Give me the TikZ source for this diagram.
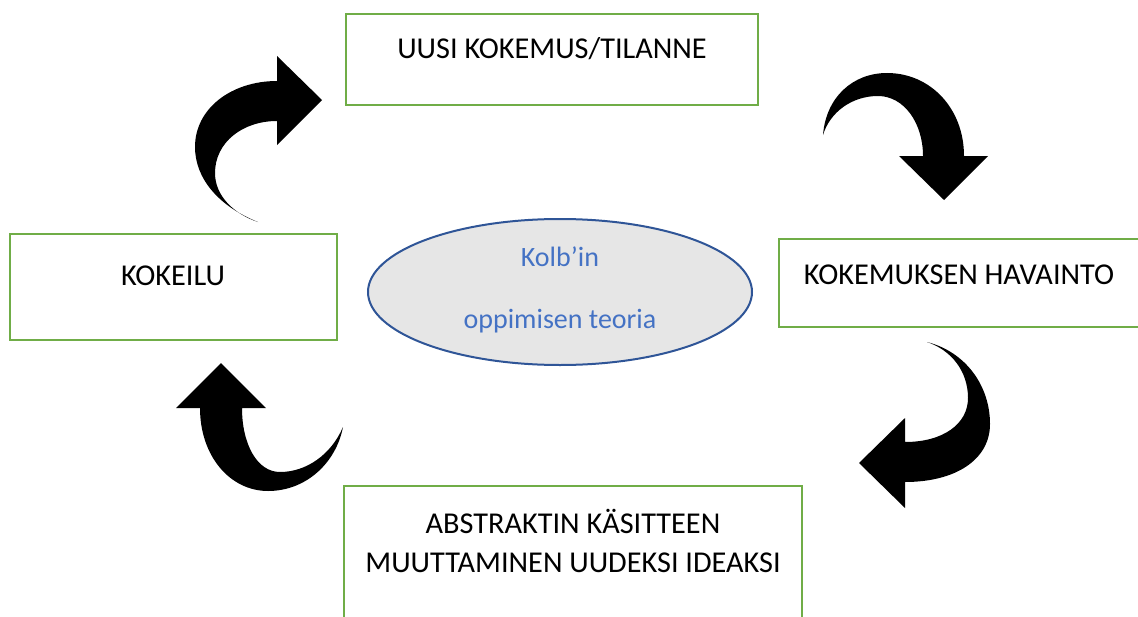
\documentclass[tikz,border=0pt]{standalone}
\usepackage{fontspec}
\setmainfont{Carlito}
\usetikzlibrary{fit,shapes.geometric}
\definecolor{boxgreen}{HTML}{70AD47}
\definecolor{ellblue}{HTML}{2F5597}
\definecolor{txtblue}{HTML}{4472C4}
\definecolor{ellfill}{HTML}{E6E6E6}
\begin{document}
\begin{tikzpicture}[x=0.75pt,y=-0.75pt,
  box/.style={draw=boxgreen,line width=1.6pt,inner sep=0pt},
  lbl/.style={anchor=base,inner sep=0pt,font=\fontsize{22.7}{27}\selectfont},
  clbl/.style={anchor=base,inner sep=0pt,text=txtblue,font=\fontsize{21}{25}\selectfont},
  curvedarrow/.style={fill=black,draw=none}]
\useasboundingbox (0,0) rectangle (1138,617);
% boxes
\node[box,fit={(346,14) (758,105)}] (top) {};
\node[box,fit={(779,239) (1142,327)}] (right) {};
\node[box,fit={(344,486) (802,622)}] (bottom) {};
\node[box,fit={(10,234) (337,340)}] (left) {};
% box texts
\node[lbl] (toptxt) at (552,59) {UUSI KOKEMUS/TILANNE};
\node[lbl] (righttxt) at (959,284) {KOKEMUKSEN HAVAINTO};
\node[lbl] (bottxt1) at (573,533) {ABSTRAKTIN KÄSITTEEN};
\node[lbl] (bottxt2) at (573,572.5) {MUUTTAMINEN UUDEKSI IDEAKSI};
\node[lbl] (lefttxt) at (173,285) {KOKEILU};
% centre ellipse
\node[ellipse,draw=ellblue,fill=ellfill,line width=1.5pt,inner sep=0pt,
      minimum width=288pt,minimum height=109.5pt] (kolb) at (560,292) {};
\node[clbl] (kolb1) at (560,266.5) {Kolb’in};
\node[clbl] (kolb2) at (560,328) {oppimisen teoria};
% curved arrows
% top-left, pointing right
\fill[curvedarrow] (258,222) .. controls (218,206) and (195,178) .. (195,147)
  .. controls (195,108) and (232,81) .. (277,81)
  -- (277,56) -- (322,100) -- (277,145) -- (277,121)
  .. controls (243,121) and (215,142) .. (215,173)
  .. controls (215,196) and (234,214) .. (258,222) -- cycle;
% top-right, pointing down
\fill[curvedarrow] (823,135) .. controls (826,97) and (853,73) .. (887,73)
  .. controls (930,73) and (964,108) .. (964,156)
  -- (988,156) -- (944,200) -- (899,156) -- (923,156)
  .. controls (923,123) and (904,96) .. (878,96)
  .. controls (852,96) and (830,112) .. (823,135) -- cycle;
% right, pointing left
\fill[curvedarrow] (927,342) .. controls (966,352) and (990,386) .. (990,424)
  .. controls (990,460) and (955,482) .. (905,482)
  -- (905,508) -- (859,463) -- (905,418) -- (905,442)
  .. controls (943,442) and (968,424) .. (968,398)
  .. controls (968,371) and (951,350) .. (927,342) -- cycle;
% bottom-left, pointing up
\fill[curvedarrow] (200,408) .. controls (200,456) and (230,491) .. (268,491)
  .. controls (306,491) and (336,463) .. (343,427)
  .. controls (331,455) and (306,472) .. (280,472)
  .. controls (257,472) and (242,444) .. (242,408)
  -- (266,408) -- (221,363) -- (176,408) -- cycle;
\end{tikzpicture}
\end{document}
